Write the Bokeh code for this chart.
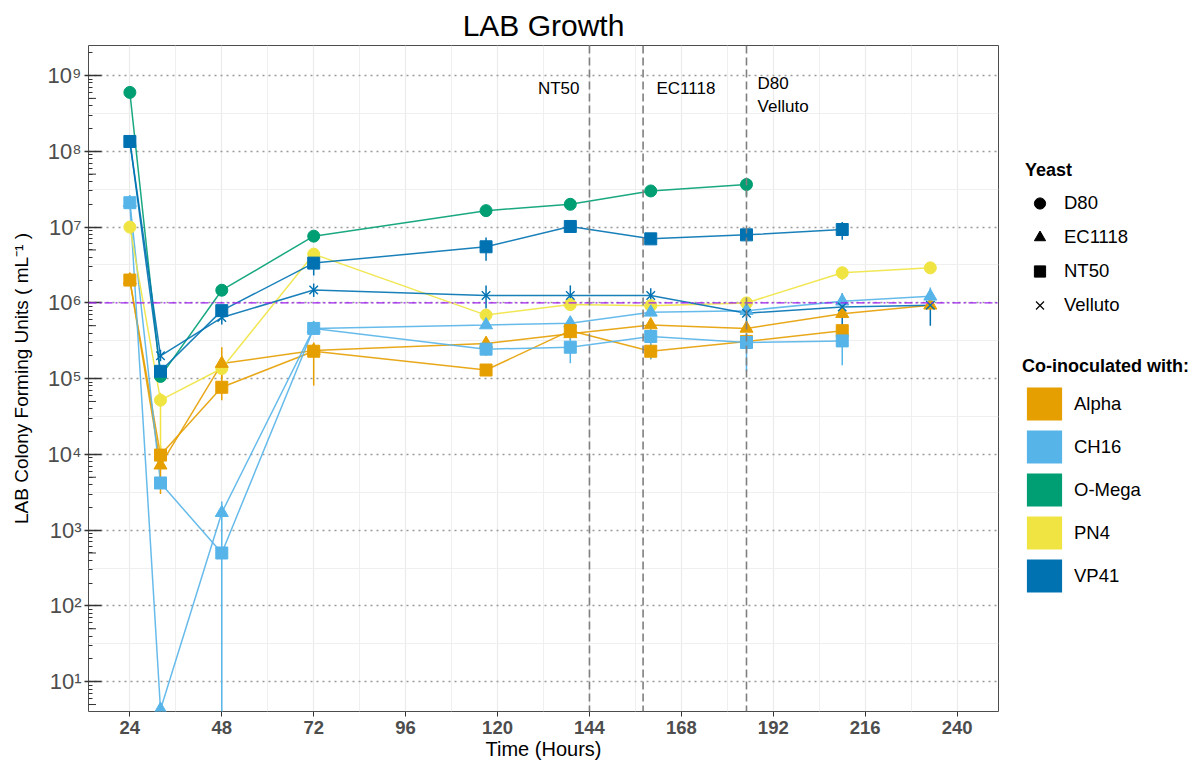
import math
from bokeh.plotting import figure
from bokeh.layouts import row
from bokeh.models import (Range1d, FixedTicker, Legend, LegendItem, Span, Label,
                          ColumnDataSource, CustomJSTickFormatter)
from bokeh.embed import file_html
from bokeh.resources import INLINE

# ---------------- data ----------------
hours = [24, 32, 48, 72, 117, 139, 160, 185, 210, 233]
x_ticks = [24, 48, 72, 96, 120, 144, 168, 192, 216, 240]
y_decades = [1, 2, 3, 4, 5, 6, 7, 8, 9]

yeasts = ["D80", "EC1118", "NT50", "Velluto"]
yeast_markers = ["circle", "triangle", "square", "x"]
labs = ["Alpha", "CH16", "O-Mega", "PN4", "VP41"]
lab_colors = ["#E69F00", "#56B4E9", "#009E73", "#F0E442", "#0072B2"]

N = None
alpha_ec1118 = [2.0e6, 7.2e3, 1.58e5, 2.35e5, 2.9e5, 3.9e5, 5.1e5, 4.6e5, 7.2e5, 9.3e5]
alpha_ec1118_lo = [N, N, 1.0e5, N, 2.0e5, 3.2e5, N, N, N, N]
alpha_ec1118_hi = [N, N, 2.6e5, N, 3.4e5, 5.6e5, N, N, N, N]

alpha_nt50 = [2.0e6, 9.8e3, 7.7e4, 2.3e5, 1.3e5, 4.3e5, 2.3e5, 3.1e5, 4.3e5, N]
alpha_nt50_lo = [N, 3.0e3, 5.2e4, 8.1e4, N, N, 1.8e5, N, N, N]
alpha_nt50_hi = [N, 1.3e4, 1.1e5, 3.0e5, N, N, 2.9e5, N, N, N]

ch16_ec1118 = [2.1e7, 4.3, 1.7e3, 4.6e5, 5.1e5, 5.4e5, 7.5e5, 7.9e5, 1.05e6, 1.22e6]
ch16_ec1118_lo = [N, N, 1.0e3, N, N, N, N, N, 8.0e5, 9.0e5]
ch16_ec1118_hi = [N, N, 2.4e3, N, N, N, N, N, 1.35e6, 1.6e6]

ch16_nt50 = [2.1e7, 4.2e3, 5.0e2, 4.6e5, 2.45e5, 2.6e5, 3.6e5, 3.0e5, 3.15e5, N]
ch16_nt50_lo = [N, N, 1.0, N, N, 1.6e5, 1.8e5, 1.24e5, 1.5e5, N]
ch16_nt50_hi = [N, N, 1.0e3, 5.5e5, N, 3.4e5, 4.6e5, 4.0e5, 4.6e5, N]

omega_d80 = [6.0e8, 1.07e5, 1.47e6, 7.6e6, 1.65e7, 2.0e7, 3.0e7, 3.65e7, N, N]
omega_d80_lo = [N, N, N, N, 1.4e7, N, 2.6e7, 2.6e7, N, N]
omega_d80_hi = [N, N, N, N, 1.95e7, N, 3.4e7, 4.2e7, N, N]

pn4_d80 = [1.0e7, 5.2e4, 1.36e5, 4.4e6, 6.9e5, 9.5e5, 9.2e5, 1.0e6, 2.5e6, 2.9e6]
pn4_d80_lo = [N, 9.3e3, N, N, N, N, N, N, 2.0e6, N]
pn4_d80_hi = [N, 6.5e4, N, N, N, N, N, 1.7e6, 3.0e6, N]

vp41_nt50 = [1.35e8, 1.25e5, 7.9e5, 3.35e6, 5.5e6, 1.02e7, 7.0e6, 7.9e6, 9.3e6, N]
vp41_nt50_lo = [N, N, N, 2.3e6, 3.6e6, N, N, 6.8e6, 6.8e6, N]
vp41_nt50_hi = [N, N, N, 4.5e6, 7.3e6, N, N, 9.3e6, 1.17e7, N]

vp41_velluto = [1.35e8, 2.0e5, 6.4e5, 1.48e6, 1.25e6, 1.25e6, 1.25e6, 7.3e5, 8.8e5, 9.3e5]
vp41_velluto_lo = [N, 1.7e5, 5.2e5, 1.2e6, 8.4e5, 8.0e5, 8.4e5, 5.6e5, 4.0e5, 5.0e5]
vp41_velluto_hi = [N, 2.4e5, 7.8e5, 1.8e6, 1.7e6, 1.7e6, 1.56e6, 8.6e5, 1.3e6, 1.4e6]

# (lab, yeast, values, lo, hi)
series = [
    ("Alpha", "EC1118", alpha_ec1118, alpha_ec1118_lo, alpha_ec1118_hi),
    ("Alpha", "NT50", alpha_nt50, alpha_nt50_lo, alpha_nt50_hi),
    ("CH16", "EC1118", ch16_ec1118, ch16_ec1118_lo, ch16_ec1118_hi),
    ("CH16", "NT50", ch16_nt50, ch16_nt50_lo, ch16_nt50_hi),
    ("O-Mega", "D80", omega_d80, omega_d80_lo, omega_d80_hi),
    ("PN4", "D80", pn4_d80, pn4_d80_lo, pn4_d80_hi),
    ("VP41", "NT50", vp41_nt50, vp41_nt50_lo, vp41_nt50_hi),
    ("VP41", "Velluto", vp41_velluto, vp41_velluto_lo, vp41_velluto_hi),
]

reference_level = 1e6
event_hours = [144, 158, 185]
annot_text = ["NT50", "EC1118", "D80", "Velluto"]
annot_x = [141.4, 161.5, 187.9, 187.9]
annot_y = [6.8e8, 6.8e8, 7.9e8, 3.9e8]
annot_align = ["right", "left", "left", "left"]

# ---------------- figure ----------------
FONT = "Liberation Sans"

p = figure(
    frame_width=910, frame_height=666,
    x_range=Range1d(13.2, 250.8),
    y_range=Range1d(10 ** 0.607, 10 ** 9.397),
    y_axis_type="log",
    output_backend="svg", toolbar_location=None,
    min_border_left=88, min_border_right=8, min_border_top=45, min_border_bottom=54,
    title="LAB Growth",
)
p.background_fill_color = "white"
p.border_fill_color = "white"
p.outline_line_color = "#4d4d4d"
p.outline_line_width = 1

p.title.align = "center"
p.title.text_font = FONT
p.title.text_font_size = "30px"
p.title.text_font_style = "normal"
p.title.text_color = "black"
p.title.offset = 0
p.title.standoff = 5
p.title.vertical_align = "middle"

# grids
p.xgrid.ticker = FixedTicker(ticks=x_ticks, minor_ticks=[t + 12 for t in x_ticks[:-1]])
p.xgrid.grid_line_color = "#EBEBEB"
p.xgrid.grid_line_width = 1.2
p.xgrid.minor_grid_line_color = "#EFEFEF"
p.xgrid.minor_grid_line_width = 1.0

p.ygrid.ticker = FixedTicker(ticks=[10 ** d for d in y_decades],
                             minor_ticks=[10 ** (d + 0.5) for d in [0] + y_decades])
p.ygrid.grid_line_color = "#9a9a9a"
p.ygrid.grid_line_width = 1.3
p.ygrid.grid_line_dash = "2 4"
p.ygrid.minor_grid_line_color = "#EFEFEF"
p.ygrid.minor_grid_line_width = 1.0

# axes
xa = p.xaxis[0]
xa.ticker = FixedTicker(ticks=x_ticks)
xa.axis_line_color = None
xa.major_tick_line_color = "#333333"
xa.major_tick_in = 0
xa.major_tick_out = 5
xa.minor_tick_line_color = None
xa.major_label_text_font = FONT
xa.major_label_text_font_style = "bold"
xa.major_label_text_font_size = "18.5px"
xa.major_label_text_color = "#4D4D4D"
xa.major_label_standoff = 4
xa.axis_label = "Time (Hours)"
xa.axis_label_text_font = FONT
xa.axis_label_text_font_style = "normal"
xa.axis_label_text_font_size = "20px"
xa.axis_label_text_color = "black"
xa.axis_label_standoff = 1

minor_y = [m * 10 ** d for d in [0] + y_decades for m in range(2, 10)]
ya = p.yaxis[0]
ya.ticker = FixedTicker(ticks=[10 ** d for d in y_decades], minor_ticks=minor_y)
ya.axis_line_color = None
ya.major_tick_line_color = "#333333"
ya.major_tick_line_width = 1.5
ya.major_tick_in = 13
ya.major_tick_out = 4
ya.minor_tick_line_color = "#333333"
ya.minor_tick_in = 4
ya.minor_tick_out = 0
ya.formatter = CustomJSTickFormatter(code="""
const sup = {"0":"\u2070","1":"\u00b9","2":"\u00b2","3":"\u00b3","4":"\u2074",
             "5":"\u2075","6":"\u2076","7":"\u2077","8":"\u2078","9":"\u2079","-":"\u207b"};
const e = Math.round(Math.log10(tick));
return "10" + String(e).split("").map(c => sup[c]).join("");
""")
ya.major_label_text_font = FONT
ya.major_label_text_font_size = "22px"
ya.major_label_text_color = "#4D4D4D"
ya.major_label_standoff = 3
ya.axis_label = "LAB Colony Forming Units ( mL\u207b\u00b9 )"
ya.axis_label_text_font = FONT
ya.axis_label_text_font_style = "normal"
ya.axis_label_text_font_size = "19px"
ya.axis_label_text_color = "black"
ya.axis_label_standoff = 13

# mid-length log ticks at 5 x 10^n (drawn from the axis range)
x0 = p.x_range.start
tick_len_h = 7.5 / (910 / (p.x_range.end - p.x_range.start))
five_y = [5 * 10 ** d for d in [0] + y_decades]
p.segment(x0=[x0] * len(five_y), y0=five_y, x1=[x0 + tick_len_h] * len(five_y), y1=five_y,
          line_color="#333333", line_width=1)

# reference lines
p.add_layout(Span(location=reference_level, dimension="width", line_color="#A020F0",
                  line_width=1.3, line_dash="8 3 2 3"))
for h in event_hours:
    p.add_layout(Span(location=h, dimension="height", line_color="#7F7F7F",
                      line_width=1.6, line_dash="8 4"))
for t, xx, yy, al in zip(annot_text, annot_x, annot_y, annot_align):
    p.add_layout(Label(x=xx, y=yy, text=t, text_align=al, text_baseline="middle",
                       text_font=FONT, text_font_size="17px", text_color="black"))

color_of = dict(zip(labs, lab_colors))
marker_of = dict(zip(yeasts, yeast_markers))

def valid(xs, ys):
    pts = [(a, b) for a, b in zip(xs, ys) if b is not None]
    return [a for a, _ in pts], [b for _, b in pts]

# lines
for lab, yeast, vals, lo, hi in series:
    xs, ys = valid(hours, vals)
    p.line(xs, ys, line_color=color_of[lab], line_width=1.5, line_alpha=0.9)

# error bars
for lab, yeast, vals, lo, hi in series:
    ex = [h for h, a, b in zip(hours, lo, hi) if a is not None and b is not None]
    elo = [a for a, b in zip(lo, hi) if a is not None and b is not None]
    ehi = [b for a, b in zip(lo, hi) if a is not None and b is not None]
    if ex:
        p.segment(x0=ex, y0=elo, x1=ex, y1=ehi, line_color=color_of[lab], line_width=1.5)

# points: circles, triangles, x, squares
order = ["D80", "EC1118", "Velluto", "NT50"]
sizes = {"D80": 12, "EC1118": 13, "NT50": 12, "Velluto": 12}
for y_name in order:
    for lab, yeast, vals, lo, hi in series:
        if yeast != y_name:
            continue
        xs, ys = valid(hours, vals)
        if marker_of[yeast] == "x":
            p.scatter(xs, ys, marker="x", size=sizes[yeast], line_color=color_of[lab], line_width=1.4)
        else:
            p.scatter(xs, ys, marker=marker_of[yeast], size=sizes[yeast],
                      fill_color=color_of[lab], line_color=color_of[lab])

# ---------------- legend panel ----------------
lf = figure(width=190, height=765, x_range=Range1d(0, 1), y_range=Range1d(0, 1),
            x_axis_type=None, y_axis_type=None, output_backend="svg", toolbar_location=None,
            min_border=0)
lf.outline_line_color = None
lf.grid.visible = False
lf.background_fill_color = "white"
lf.border_fill_color = "white"

# legend-only renderers: one point placed outside the (hidden) legend panel range
offpanel = dict(x=[10], y=[10])
yeast_items = []
for yname, mk in zip(yeasts, yeast_markers):
    r = lf.scatter(x="x", y="y", source=ColumnDataSource(offpanel), marker=mk, size=12,
                   fill_color="black", line_color="black", line_width=1.2 if mk == "x" else 1)
    yeast_items.append(LegendItem(label=yname, renderers=[r]))

lab_items = []
for lab, col in zip(labs, lab_colors):
    r = lf.rect(x="x", y="y", width=0.1, height=0.1, source=ColumnDataSource(offpanel),
                fill_color=col, line_color=None)
    lab_items.append(LegendItem(label=lab, renderers=[r]))

def style_legend(lg):
    lg.border_line_color = None
    lg.background_fill_alpha = 0
    lg.label_text_font = FONT
    lg.label_text_font_size = "18.5px"
    lg.label_text_color = "black"
    lg.title_text_font = FONT
    lg.title_text_font_size = "18px"
    lg.title_text_font_style = "bold"
    lg.title_text_color = "black"
    lg.margin = 0
    lg.padding = 0

# location = lower-left corner, measured from the panel bottom
leg1 = Legend(items=yeast_items, title="Yeast", location=(19, 392))
style_legend(leg1)
leg1.glyph_width = 29
leg1.glyph_height = 28
leg1.label_height = 28
leg1.spacing = 6
leg1.label_standoff = 10
leg1.title_standoff = 8
lf.add_layout(leg1)

leg2 = Legend(items=lab_items, title="Co-inoculated with:", location=(16, 115))
style_legend(leg2)
leg2.glyph_width = 44
leg2.glyph_height = 41
leg2.label_height = 41
leg2.spacing = 2
leg2.label_standoff = 8
leg2.title_standoff = 6
lf.add_layout(leg2)

layout = row(p, lf, spacing=0)
open("out.html", "w").write(file_html(layout, INLINE))
